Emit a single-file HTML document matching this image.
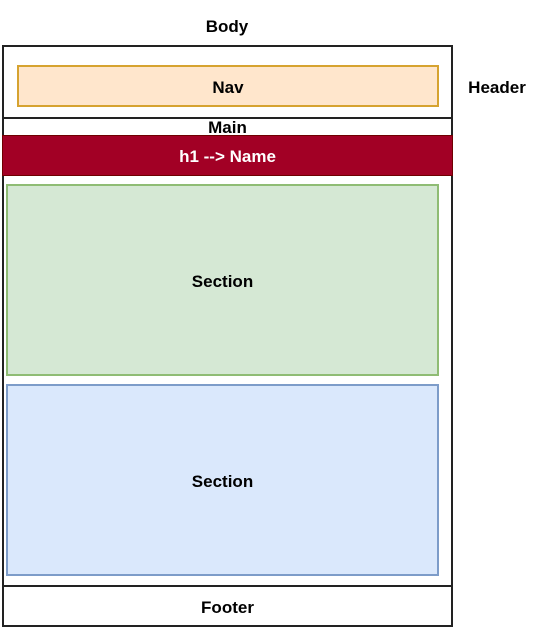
<!DOCTYPE html>
<html><head><style>
body{margin:0;width:534px;height:631px;background:#fff;position:relative;font-family:"Liberation Sans",Arial,sans-serif;font-weight:bold;font-size:17px;}
div{position:absolute;box-sizing:border-box;display:flex;align-items:center;justify-content:center;}
.t{padding-top:3px;}
</style></head><body>
<div class="t" style="left:0;top:13px;width:454px;height:24px;">Body</div>
<div style="left:2px;top:45px;width:451px;height:582px;border:2px solid #222;"></div>
<div style="left:2px;top:45px;width:451px;height:74px;border:2px solid #222;"></div>
<div class="t" style="left:17px;top:65px;width:422px;height:42px;background:#ffe6cc;border:2px solid #d6a330;">Nav</div>
<div class="t" style="left:458px;top:74px;width:78px;height:24px;">Header</div>
<div class="t" style="left:2px;top:116px;width:451px;height:20px;">Main</div>
<div class="t" style="left:2px;top:135px;width:451px;height:41px;background:#a20025;border:1px solid #6f0000;color:#fff;">h1 --&gt; Name</div>
<div class="t" style="left:6px;top:184px;width:433px;height:192px;background:#d5e8d4;border:2px solid #8fbc74;">Section</div>
<div class="t" style="left:6px;top:384px;width:433px;height:192px;background:#dae8fc;border:2px solid #7d9cc9;">Section</div>
<div class="t" style="left:2px;top:585px;width:451px;height:42px;border:2px solid #222;">Footer</div>
</body></html>
